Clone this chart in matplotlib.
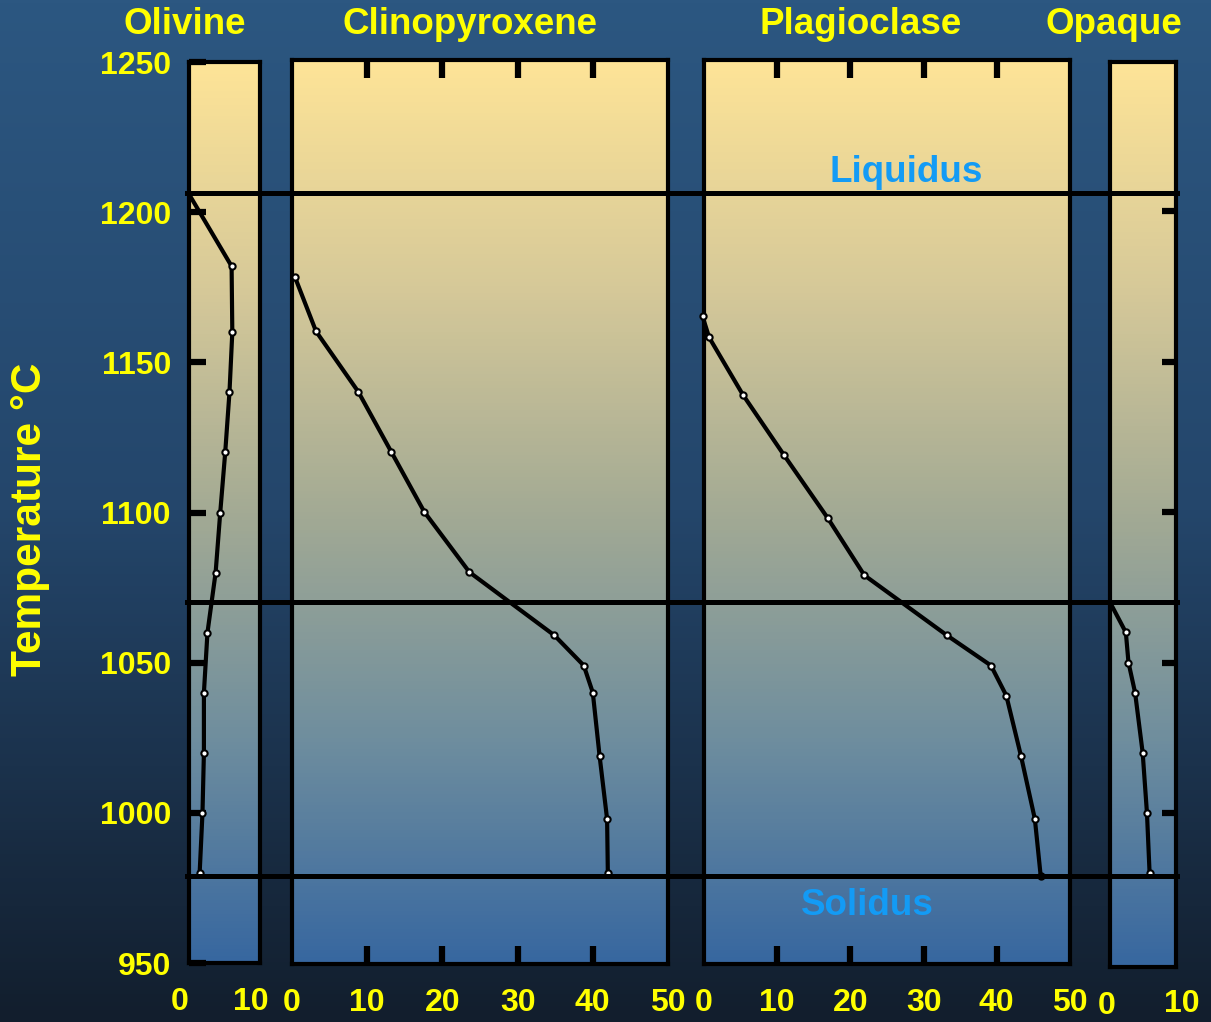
import matplotlib.pyplot as plt
import numpy as np
from matplotlib.colors import LinearSegmentedColormap
from matplotlib.transforms import ScaledTranslation

plt.rcParams['font.family'] = ['Liberation Sans', 'DejaVu Sans']
plt.rcParams['font.weight'] = 'bold'

# --- data (percent crystallised vs temperature) ---
olv_T = [1206, 1182, 1160, 1140, 1120, 1100, 1080, 1060, 1040, 1020, 1000, 980]
olv_pct = [0, 6.0, 6.1, 5.7, 5.1, 4.4, 3.75, 2.6, 2.1, 2.1, 1.9, 1.5]

cpx_T = [1178, 1160, 1140, 1120, 1100, 1080, 1059, 1049, 1040, 1019, 998, 980]
cpx_pct = [0.4, 3.2, 8.8, 13.2, 17.6, 23.6, 34.9, 38.8, 40.0, 40.9, 41.9, 42.0]

plag_T = [1165, 1158, 1139, 1119, 1098, 1079, 1059, 1049, 1039, 1019, 998, 979]
plag_pct = [-0.2, 0.7, 5.3, 10.9, 16.9, 21.9, 33.2, 39.2, 41.3, 43.3, 45.2, 46.0]

opq_T = [1070, 1060, 1050, 1040, 1020, 1000, 980]
opq_pct = [0, 2.4, 2.8, 3.8, 4.95, 5.6, 6.0]

liquidus_T = 1206
mid_T = 1070
solidus_T = 979

temp_ticks = [950, 1000, 1050, 1100, 1150, 1200, 1250]
temp_marks = [1000, 1050, 1100, 1150, 1200]
small_ticks = [0, 10]
big_ticks = [0, 10, 20, 30, 40, 50]
big_marks = [10, 20, 30, 40]

W, H = 1211, 1022
YELLOW = '#FFFF00'
LABEL_BLUE = '#139BF5'

fig = plt.figure(figsize=(W / 100, H / 100), dpi=100)

# figure background gradient
bg = fig.add_axes([0, 0, 1, 1], zorder=-10)
bg_cmap = LinearSegmentedColormap.from_list('bg', ['#2C5781', '#24466B', '#121E2D'])
bg.imshow(np.linspace(0, 1, 256).reshape(-1, 1), cmap=bg_cmap, aspect='auto',
          extent=[0, 1, 0, 1])
bg.axis('off')

panel_cmap = LinearSegmentedColormap.from_list(
    'panel', ['#FEE497', '#D6C999', '#A3AA94', '#6F8E9E', '#3767A0'])


def temp_at(y):
    # pixel row -> temperature (1250 at y=60.5, 950 at y=963.5)
    return 1250 - (y - 60.5) / 3.01


def px_axes(x0, y0, x1, y1, **kw):
    return fig.add_axes([x0 / W, 1 - y1 / H, (x1 - x0) / W, (y1 - y0) / H], **kw)


def panel(box, xmax):
    x0, y0, x1, y1 = box
    ax = px_axes(x0, y0, x1, y1)
    ylo, yhi = temp_at(y1), temp_at(y0)
    ax.imshow(np.linspace(0, 1, 256).reshape(-1, 1), cmap=panel_cmap, aspect='auto',
              extent=[0, xmax, ylo, yhi], zorder=0)
    ax.set_xlim(0, xmax)
    ax.set_ylim(ylo, yhi)
    ax.xaxis.remove_overlapping_locs = False
    for s in ax.spines.values():
        s.set_linewidth(3)
        s.set_color('black')
    ax.tick_params(which='both', colors='black', labelcolor=YELLOW, labelsize=23)
    return ax


def draw(ax, pct, T, first_marker=True):
    ax.plot(pct, T, color='black', lw=3, marker='o', ms=4.5, mfc='white', mec='black',
            mew=1.5, markevery=(0 if first_marker else 1, 1), clip_on=False, zorder=3)


def shift_label(lab, dx_px, dy_px=0):
    off = ScaledTranslation(dx_px / 100, dy_px / 100, fig.dpi_scale_trans)
    lab.set_transform(lab.get_transform() + off)


# Olivine
ax1 = panel((189, 62, 260, 963), 10)
draw(ax1, olv_pct, olv_T, first_marker=False)
ax1.set_xticks(small_ticks)
ax1.set_yticks(temp_ticks)
ax1.tick_params(axis='x', which='major', length=0, pad=17)
ax1.tick_params(axis='y', which='major', direction='in', length=12, width=4.5, pad=13,
                color='black')
for lab in ax1.get_xticklabels():
    shift_label(lab, -9)

# Clinopyroxene
ax2 = panel((292, 60, 668, 964), 50)
draw(ax2, cpx_pct, cpx_T)
ax2.set_xticks(big_ticks)
ax2.set_xticks(big_marks, minor=True)
ax2.set_yticks([])
ax2.tick_params(axis='x', which='major', length=0, pad=17)
ax2.tick_params(axis='x', which='minor', direction='in', length=13, width=4.5,
                top=True, bottom=True)

# Plagioclase
ax3 = panel((704, 60, 1070, 964), 50)
draw(ax3, plag_pct, plag_T)
ax3.set_xticks(big_ticks)
ax3.set_xticks(big_marks, minor=True)
ax3.set_yticks([])
ax3.tick_params(axis='x', which='major', length=0, pad=17)
ax3.tick_params(axis='x', which='minor', direction='in', length=13, width=4.5,
                top=True, bottom=True)

# Opaque
ax4 = panel((1110, 62, 1176, 967), 10)
draw(ax4, opq_pct, opq_T, first_marker=False)
ax4.set_xticks(small_ticks)
ax4.set_yticks(temp_marks)
ax4.tick_params(axis='x', which='major', length=0, pad=16)
ax4.tick_params(axis='y', which='major', direction='in', length=10, width=4.5,
                left=False, right=True, labelleft=False)
labs = ax4.get_xticklabels()
shift_label(labs[0], -3, -2)
shift_label(labs[1], 6)

# horizontal liquidus / solidus lines across all panels
over = px_axes(185, 60.5, 1180, 963.5, zorder=5)
over.set_xlim(0, 1)
over.set_ylim(950, 1250)
over.patch.set_alpha(0)
over.axis('off')
for t in (liquidus_T, mid_T, solidus_T):
    over.axhline(t, color='black', lw=3.6)

# titles and labels
for name, xc in zip(['Olivine', 'Clinopyroxene', 'Plagioclase', 'Opaque'],
                    [185, 470, 861, 1114]):
    fig.text(xc / W, 1 - 24 / H, name, color=YELLOW, fontsize=26.5, ha='center',
             va='center')

fig.text(30 / W, 1 - 519 / H, 'Temperature \u00b0C', color=YELLOW, fontsize=30.5,
         rotation=90, ha='center', va='center')
fig.text(906 / W, 1 - 173 / H, 'Liquidus', color=LABEL_BLUE, fontsize=26.5,
         ha='center', va='center')
fig.text(867 / W, 1 - 905 / H, 'Solidus', color=LABEL_BLUE, fontsize=26.5,
         ha='center', va='center')

fig.savefig('out.png', dpi=100)
